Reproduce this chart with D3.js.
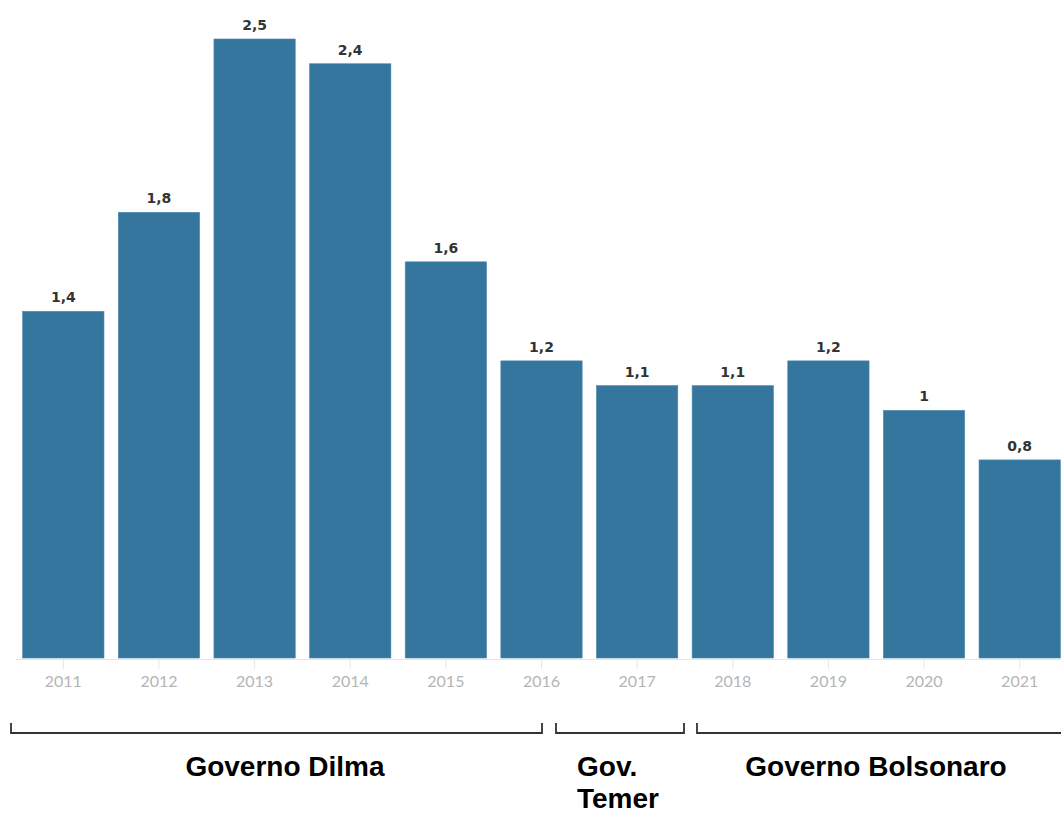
<!DOCTYPE html>
<html>
<head>
<meta charset="utf-8">
<script src="https://cdn.jsdelivr.net/npm/d3@7"></script>
<style>
  html, body { margin: 0; padding: 0; background: #fff; }
  svg { display: block; }
</style>
</head>
<body>
<svg id="chart" width="1061" height="814"></svg>
<script>
// Annual values by year
const years = ["2011", "2012", "2013", "2014", "2015", "2016", "2017", "2018", "2019", "2020", "2021"];
const values = [1.4, 1.8, 2.5, 2.4, 1.6, 1.2, 1.1, 1.1, 1.2, 1.0, 0.8];

// Government periods shown as brackets under the axis
const periodNames = ["Governo Dilma", "Gov.|Temer", "Governo Bolsonaro"];

const svg = d3.select("#chart");
const baseY = 658;

const x = d3.scaleBand()
  .domain(years)
  .range([15.5, 1067.5])
  .paddingInner(0.15)
  .paddingOuter(0.075);

const y = d3.scaleLinear()
  .domain([0, 2.5])
  .range([baseY, 39]);

const fmt = v => String(v).replace(".", ",");

// Bars
svg.append("g")
  .selectAll("rect")
  .data(values)
  .join("rect")
  .attr("x", (d, i) => x(years[i]))
  .attr("y", d => y(d))
  .attr("width", x.bandwidth())
  .attr("height", d => y(0) - y(d))
  .attr("fill", "#34769e")
  .attr("stroke", "#4a86ab")
  .attr("stroke-width", 0.6);

// Value labels
svg.append("g")
  .selectAll("text")
  .data(values)
  .join("text")
  .attr("x", (d, i) => x(years[i]) + x.bandwidth() / 2)
  .attr("y", d => y(d) - 9)
  .attr("text-anchor", "middle")
  .attr("font-family", "DejaVu Sans, Verdana, sans-serif")
  .attr("font-weight", "bold")
  .attr("font-size", 14)
  .attr("fill", "#333")
  .text(d => fmt(d));

// X axis
const axis = svg.append("g")
  .attr("transform", `translate(0,${baseY + 1})`)
  .call(d3.axisBottom(x).tickSize(10).tickSizeOuter(0).tickPadding(7));
axis.select(".domain").attr("stroke", "#e6e6e6").attr("stroke-width", 1);
axis.selectAll(".tick line").attr("stroke", "#e6e6e6");
axis.selectAll(".tick text")
  .attr("font-family", "Lato, sans-serif")
  .attr("font-size", 16)
  .attr("fill", "#b5b5b5");

// Period brackets
const bx0 = [11, 556, 697];
const bx1 = [542, 684, 1070];
const bracketY = 733;
const labelX = [285, 577, 876];
const labelAnchor = ["middle", "start", "middle"];

const groups = svg.append("g");
periodNames.forEach((name, i) => {
  const path = d3.path();
  path.moveTo(bx0[i], bracketY - 10);
  path.lineTo(bx0[i], bracketY);
  path.lineTo(bx1[i], bracketY);
  path.lineTo(bx1[i], bracketY - 10);
  groups.append("path")
    .attr("d", path.toString())
    .attr("fill", "none")
    .attr("stroke", "#333")
    .attr("stroke-width", 1.8);

  const t = groups.append("text")
    .attr("x", labelX[i])
    .attr("y", 776)
    .attr("text-anchor", labelAnchor[i])
    .attr("font-family", "Liberation Sans, Arial, sans-serif")
    .attr("font-weight", "bold")
    .attr("font-size", 28)
    .attr("fill", "#000");
  name.split("|").forEach((line, j) => {
    t.append("tspan")
      .attr("x", labelX[i])
      .attr("dy", j === 0 ? 0 : 31.5)
      .text(line);
  });
});
</script>
</body>
</html>
